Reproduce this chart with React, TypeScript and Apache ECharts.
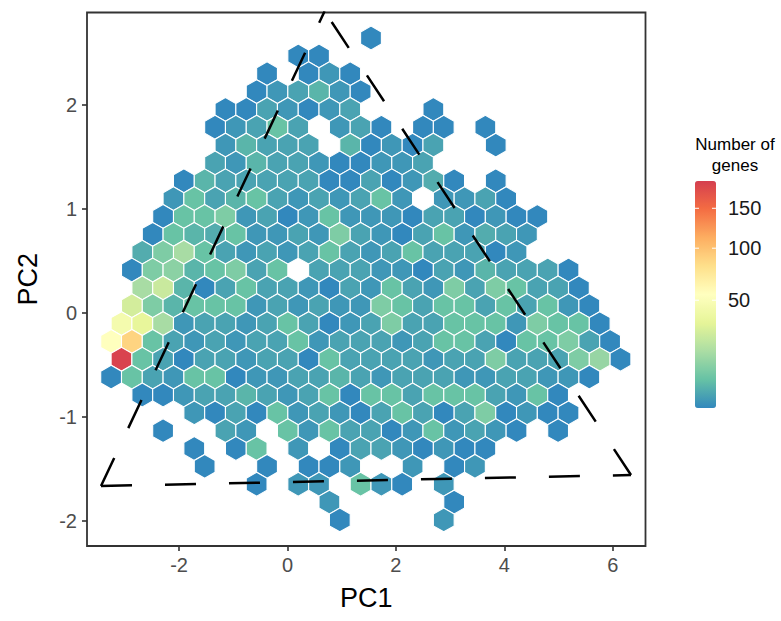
import React, { useEffect, useRef } from "react";
import * as echarts from "echarts";

// ---- axis ticks ----
const xTicks = [-2, 0, 2, 4, 6];
const yTicks = [-2, -1, 0, 1, 2];
const legendTicks = [50, 100, 150];

// ---- hexbin counts (number of genes per bin), rows from top to bottom, columns left to right (0 = empty bin) ----
const hexCounts: number[][] = [
  [0, 0, 0, 0, 0, 0, 0, 0, 0, 0, 0, 0, 1],
  [0, 0, 0, 0, 0, 0, 0, 0, 0, 1, 1],
  [0, 0, 0, 0, 0, 0, 0, 1, 0, 1, 2, 1],
  [0, 0, 0, 0, 0, 0, 0, 1, 2, 3, 5, 2, 1],
  [0, 0, 0, 0, 0, 1, 1, 3, 2, 1, 2, 3, 0, 0, 0, 1],
  [0, 0, 0, 0, 0, 1, 2, 3, 7, 3, 0, 2, 3, 1, 0, 1, 1, 0, 1],
  [0, 0, 0, 0, 0, 2, 5, 3, 3, 3, 0, 5, 1, 2, 1, 3, 0, 0, 1],
  [0, 0, 0, 0, 0, 3, 2, 5, 3, 3, 2, 1, 1, 2, 2, 3],
  [0, 0, 0, 1, 5, 3, 3, 3, 3, 3, 1, 1, 3, 1, 2, 4, 1, 0, 1],
  [0, 0, 0, 2, 7, 3, 5, 7, 3, 2, 3, 2, 3, 7, 2, 0, 2, 2, 3, 1],
  [0, 0, 1, 7, 7, 10, 2, 3, 1, 2, 7, 2, 2, 2, 1, 3, 3, 1, 2, 1, 1],
  [0, 0, 1, 7, 5, 4, 7, 2, 2, 3, 2, 10, 3, 2, 1, 3, 7, 2, 4, 3, 2],
  [0, 4, 10, 17, 7, 3, 2, 3, 2, 3, 7, 3, 2, 3, 7, 3, 3, 3, 1, 2],
  [0, 1, 10, 12, 5, 7, 10, 3, 7, 0, 3, 3, 3, 2, 2, 1, 3, 2, 5, 3, 3, 3, 1],
  [0, 17, 25, 5, 1, 3, 7, 3, 3, 2, 1, 3, 2, 7, 3, 2, 10, 3, 10, 7, 3, 3, 1],
  [0, 28, 10, 5, 7, 7, 7, 2, 3, 2, 3, 2, 2, 10, 7, 3, 7, 7, 3, 7, 3, 7, 2, 1],
  [45, 35, 17, 2, 3, 3, 2, 3, 7, 3, 1, 2, 3, 10, 3, 3, 7, 7, 7, 2, 10, 7, 7, 1],
  [55, 88, 7, 3, 2, 3, 2, 3, 3, 7, 2, 3, 3, 3, 2, 3, 7, 7, 3, 1, 7, 7, 10, 3, 1],
  [185, 7, 3, 1, 3, 3, 2, 3, 3, 1, 7, 3, 3, 3, 3, 2, 3, 3, 10, 3, 3, 3, 10, 14, 1],
  [1, 7, 3, 2, 7, 7, 1, 2, 2, 3, 3, 5, 3, 2, 3, 3, 3, 2, 2, 3, 3, 2, 2, 1],
  [0, 1, 1, 2, 3, 3, 5, 3, 2, 3, 7, 1, 7, 7, 3, 7, 7, 7, 3, 2, 7, 1],
  [0, 0, 0, 0, 2, 1, 3, 1, 7, 2, 3, 2, 1, 3, 7, 3, 1, 3, 10, 1, 2, 1, 1],
  [0, 0, 1, 0, 0, 3, 2, 0, 7, 2, 7, 3, 3, 1, 2, 7, 2, 3, 2, 1, 0, 1],
  [0, 0, 0, 0, 1, 0, 1, 7, 0, 2, 0, 1, 3, 3, 2, 1, 2, 1, 1],
  [0, 0, 0, 0, 1, 0, 0, 1, 0, 1, 1, 2, 0, 0, 2, 0, 1, 2],
  [0, 0, 0, 0, 0, 0, 0, 1, 0, 2, 2, 0, 7, 2, 1, 0, 2],
  [0, 0, 0, 0, 0, 0, 0, 0, 0, 0, 2, 0, 0, 0, 0, 0, 1],
  [0, 0, 0, 0, 0, 0, 0, 0, 0, 0, 0, 1, 0, 0, 0, 0, 2],
];

// hex grid geometry in data units (bin width in PC1, row step in PC2)
const hexWidth = 0.3836;
const hexRowStep = 0.17163;
const firstColPC1 = -3.0627; // column 0 centre on even rows
const firstRowPC2 = 2.6442;

// archetype triangle vertices (apex, bottom-left, bottom-right)
const archetypePC1 = [0.6845, -3.441, 6.338];
const archetypePC2 = [2.901, -1.6635, -1.5577];

const spectral = ["#3288BD", "#66C2A5", "#ABDDA4", "#E6F598", "#FFFFBF", "#FEE08B", "#FDAE61", "#F46D43", "#D53E4F"];
const countMin = 1;
const countMax = 190;

const FONT = "'Liberation Sans', Arial, Helvetica, sans-serif";

export default function App() {
  const ref = useRef<HTMLDivElement>(null);

  useEffect(() => {
    if (!ref.current) return;
    const chart = echarts.init(ref.current, undefined, { renderer: "svg" });

    const hexData: number[][] = [];
    hexCounts.forEach((row, r) => {
      row.forEach((n, c) => {
        if (n > 0) {
          const x = firstColPC1 + c * hexWidth - (r % 2 === 1 ? hexWidth / 2 : 0);
          const y = firstRowPC2 - r * hexRowStep;
          hexData.push([x, y, n, Math.sqrt(n)]);
        }
      });
    });

    const A: [number, number] = [archetypePC1[0], archetypePC2[0]];
    const BL: [number, number] = [archetypePC1[1], archetypePC2[1]];
    const BR: [number, number] = [archetypePC1[2], archetypePC2[2]];
    const edges = [
      [BL, A],
      [BL, BR],
      [BR, A],
    ];

    const legendLeft = 695;
    const legendTop = 181;
    const legendW = 21;
    const legendH = 227;
    const sMin = Math.sqrt(countMin);
    const sMax = Math.sqrt(countMax);
    const yFor = (v: number) => legendTop + ((sMax - Math.sqrt(v)) / (sMax - sMin)) * legendH;

    const graphics: any[] = [
      {
        type: "text",
        x: 735,
        y: 134,
        style: {
          text: "Number of\ngenes",
          fill: "#000",
          font: `17px ${FONT}`,
          align: "center",
          verticalAlign: "top",
          lineHeight: 21,
        },
        z: 10,
      },
    ];
    legendTicks.forEach((v) => {
      const y = yFor(v);
      graphics.push({
        type: "text",
        x: legendLeft + legendW + 12,
        y,
        style: { text: String(v), fill: "#1a1a1a", font: `20px ${FONT}`, align: "left", verticalAlign: "middle" },
        z: 10,
      });
      graphics.push({
        type: "line",
        shape: { x1: legendLeft, y1: y, x2: legendLeft + 4, y2: y },
        style: { stroke: "#fff", lineWidth: 1 },
        z: 10,
      });
      graphics.push({
        type: "line",
        shape: { x1: legendLeft + legendW - 4, y1: y, x2: legendLeft + legendW, y2: y },
        style: { stroke: "#fff", lineWidth: 1 },
        z: 10,
      });
    });

    const option: any = {
      animation: false,
      backgroundColor: "#fff",
      textStyle: { fontFamily: FONT },
      grid: {
        left: 87,
        top: 12.5,
        width: 558.5,
        height: 533.5,
        show: true,
        borderColor: "#333333",
        borderWidth: 1.8,
        backgroundColor: "#fff",
        z: 0,
      },
      xAxis: {
        type: "value",
        min: -3.6993,
        max: 6.6052,
        axisLine: { show: false, onZero: false },
        splitLine: { show: false },
        axisTick: { show: true, length: 5, lineStyle: { color: "#333333", width: 1.6 }, customValues: xTicks },
        axisLabel: { color: "#4D4D4D", fontSize: 20, margin: 9, customValues: xTicks, fontFamily: FONT },
        name: "PC1",
        nameLocation: "middle",
        nameGap: 38,
        nameTextStyle: { fontSize: 27, color: "#000", fontFamily: FONT },
      },
      yAxis: {
        type: "value",
        min: -2.2404,
        max: 2.8894,
        axisLine: { show: false, onZero: false },
        splitLine: { show: false },
        axisTick: { show: true, length: 5, lineStyle: { color: "#333333", width: 1.6 }, customValues: yTicks },
        axisLabel: { color: "#4D4D4D", fontSize: 20, margin: 10, customValues: yTicks, fontFamily: FONT },
        name: "PC2",
        nameLocation: "middle",
        nameGap: 46,
        nameTextStyle: { fontSize: 27, color: "#000", fontFamily: FONT },
      },
      visualMap: {
        type: "continuous",
        seriesIndex: 0,
        dimension: 3,
        min: sMin,
        max: sMax,
        orient: "vertical",
        left: legendLeft,
        top: legendTop,
        itemWidth: legendW,
        itemHeight: legendH,
        padding: 0,
        calculable: false,
        hoverLink: false,
        text: null,
        showLabel: false,
        inRange: { color: spectral },
      },
      graphic: graphics,
      series: [
        {
          type: "custom",
          coordinateSystem: "cartesian2d",
          dimensions: ["PC1", "PC2", "count", "sqrtCount"],
          encode: { x: 0, y: 1, tooltip: 2 },
          data: hexData,
          clip: true,
          silent: true,
          renderItem: (params: any, api: any) => {
            const c = api.coord([api.value(0), api.value(1)]);
            const sz = api.size([hexWidth, hexRowStep]);
            const hw = sz[0] / 2;
            const h1 = sz[1] / 3;
            const h2 = (2 * sz[1]) / 3;
            const pts = [
              [c[0], c[1] - h2],
              [c[0] + hw, c[1] - h1],
              [c[0] + hw, c[1] + h1],
              [c[0], c[1] + h2],
              [c[0] - hw, c[1] + h1],
              [c[0] - hw, c[1] - h1],
            ];
            return {
              type: "polygon",
              shape: { points: pts },
              style: { fill: api.visual("color"), stroke: "#ffffff", lineWidth: 1.1 },
            };
          },
        },
        ...edges.map((e) => ({
          type: "line",
          data: e,
          symbol: "none",
          clip: true,
          silent: true,
          z: 5,
          lineStyle: { color: "#000", width: 2.5, type: [31, 33], cap: "butt" },
        })),
      ],
    };

    chart.setOption(option);
    return () => chart.dispose();
  }, []);

  return <div ref={ref} style={{ position: "fixed", left: 0, top: 0, width: 781, height: 621 }} />;
}
